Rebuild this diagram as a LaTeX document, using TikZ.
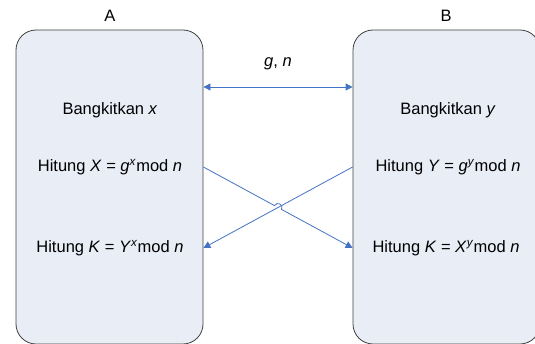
\documentclass[tikz,border=0pt]{standalone}
\usepackage{fontspec}
\setmainfont{Liberation Sans}
\usetikzlibrary{arrows.meta,calc}
\definecolor{boxfill}{HTML}{E9EDF6}
\definecolor{linkblue}{HTML}{4472C4}

\begin{document}
\begin{tikzpicture}[x=1pt, y=1pt,
    every node/.style={font=\fontsize{16.5}{20}\selectfont},
    party/.style={draw=black!75, fill=boxfill, rounded corners=20pt, minimum width=187pt, minimum height=314pt, line width=0.8pt},
    msg/.style={draw=linkblue, line width=0.8pt, -{Triangle[length=7pt,width=7pt]}}]
    \clip (0,0) rectangle (535,343);

    % The two parties
    \node[party] (A) at (109.5,156) {};
    \node[party] (B) at (446.5,156) {};
    \node (nameA) at (110,327) {A};
    \node (nameB) at (446,327) {B};

    % Steps of A
    \node (genA) at (110,233) {Bangkitkan \textit{x}};
    \node (hitX) at (110,176) {Hitung \textit{X} = \textit{g}\textsuperscript{\textit{x}}mod \textit{n}};
    \node (keyA) at (110,95) {Hitung \textit{K} = \textit{Y}\textsuperscript{\textit{x}}mod \textit{n}};

    % Steps of B
    \node (genB) at (448,233) {Bangkitkan \textit{y}};
    \node (hitY) at (448,176) {Hitung \textit{Y} = \textit{g}\textsuperscript{\textit{y}}mod \textit{n}};
    \node (keyB) at (446,95) {Hitung \textit{K} = \textit{X}\textsuperscript{\textit{y}}mod \textit{n}};

    % Public values g, n
    \coordinate (gn) at (0,256);
    \draw[msg, {Triangle[length=7pt,width=7pt]}-{Triangle[length=7pt,width=7pt]}] (A.east |- gn) -- (B.west |- gn)
        node[midway, above=13pt] {\textit{g}, \textit{n}};

    % Exchange of X and Y
    \coordinate (xa) at (A.east |- hitX);
    \coordinate (kb) at (B.west |- keyB);
    \coordinate (yb) at (B.west |- hitY);
    \coordinate (ka) at (A.east |- keyA);
    \coordinate (cross) at ($(xa)!0.5!(kb)$);
    \draw[msg] (yb) -- (ka);
    \draw[msg] (xa) -- ($(cross)!4pt!(xa)$) to[bend left=90, looseness=1.7] ($(cross)!4pt!(kb)$) -- (kb);
\end{tikzpicture}
\end{document}
